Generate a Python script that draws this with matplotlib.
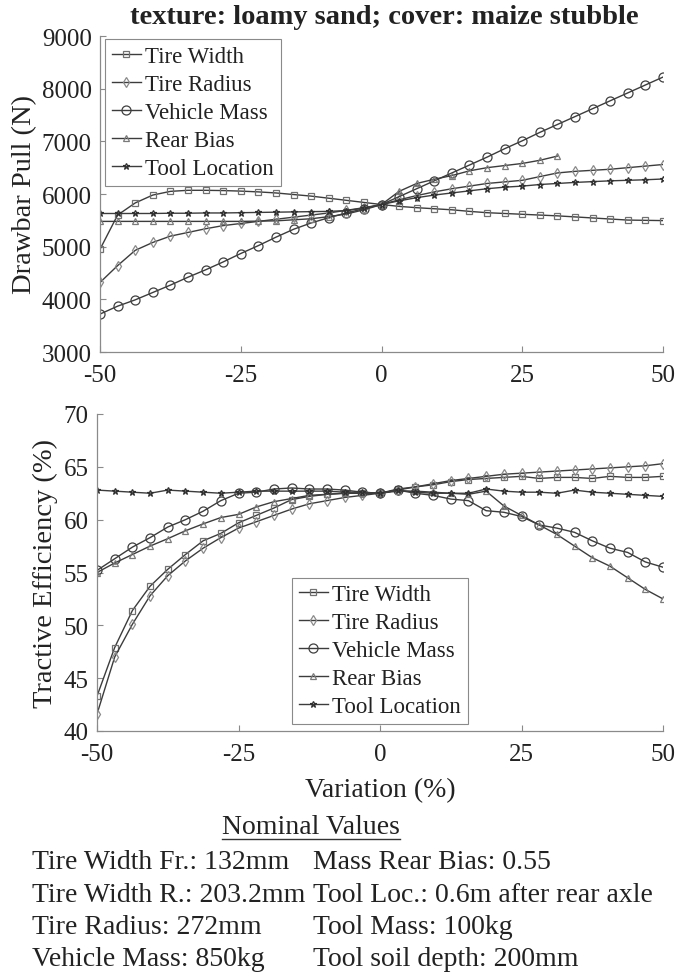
import matplotlib
matplotlib.use("Agg")
import matplotlib.pyplot as plt
from matplotlib.lines import Line2D
import numpy as np

plt.rcParams['font.family'] = ['Liberation Serif', 'DejaVu Serif']

# ---------------- data ----------------
variation = [-50, -46.875, -43.75, -40.625, -37.5, -34.375, -31.25, -28.125, -25,
             -21.875, -18.75, -15.625, -12.5, -9.375, -6.25, -3.125, 0,
             3.125, 6.25, 9.375, 12.5, 15.625, 18.75, 21.875, 25,
             28.125, 31.25, 34.375, 37.5, 40.625, 43.75, 46.875, 50]

series_names = ["Tire Width", "Tire Radius", "Vehicle Mass", "Rear Bias", "Tool Location"]

# Drawbar pull (N)
dp_tire_width = [4950, 5600, 5830, 5980, 6050, 6070, 6070, 6065, 6055, 6040, 6020, 5990, 5960,
                 5920, 5880, 5840, 5800, 5765, 5740, 5720, 5700, 5670, 5645, 5630, 5615,
                 5600, 5585, 5565, 5545, 5525, 5505, 5500, 5495]
dp_tire_radius = [4320, 4640, 4930, 5080, 5200, 5270, 5340, 5400, 5440, 5480, 5520, 5560, 5600,
                  5640, 5690, 5740, 5800, 5890, 5970, 6040, 6100, 6150, 6200, 6230, 6260,
                  6330, 6400, 6430, 6450, 6470, 6500, 6530, 6560]
dp_vehicle_mass = [3720, 3870, 3990, 4130, 4270, 4420, 4560, 4710, 4870, 5020, 5180, 5330, 5450,
                   5550, 5640, 5720, 5800, 5950, 6100, 6250, 6400, 6550, 6700, 6860, 7010,
                   7170, 7320, 7470, 7620, 7770, 7920, 8070, 8220]
dp_rear_bias = [5480, 5480, 5480, 5480, 5480, 5480, 5480, 5480, 5480, 5485, 5490, 5510, 5530,
                5570, 5620, 5700, 5800, 6050, 6200, 6280, 6350, 6440, 6500, 6540, 6580,
                6640, 6720, None, None, None, None, None, None]
dp_tool_location = [5630, 5630, 5630, 5630, 5635, 5635, 5640, 5640, 5645, 5650, 5655, 5660, 5665,
                    5670, 5685, 5730, 5800, 5870, 5930, 5980, 6020, 6060, 6100, 6130, 6150,
                    6180, 6200, 6220, 6235, 6250, 6260, 6270, 6285]

# Tractive efficiency (%)
te_tire_width = [43.3, 47.9, 51.4, 53.7, 55.3, 56.7, 58.0, 58.7, 59.7, 60.4, 61.1, 61.9, 62.2,
                 62.4, 62.5, 62.5, 62.5, 62.9, 63.1, 63.3, 63.6, 63.8, 63.9, 64.0, 64.1,
                 63.9, 64.0, 64.0, 63.9, 64.1, 64.0, 64.0, 64.1]
te_tire_radius = [41.6, 47.0, 50.1, 52.8, 54.7, 56.1, 57.3, 58.3, 59.2, 59.8, 60.4, 61.0, 61.5,
                  61.8, 62.1, 62.3, 62.5, 62.8, 63.1, 63.4, 63.7, 63.9, 64.1, 64.3, 64.4,
                  64.5, 64.6, 64.7, 64.8, 64.9, 65.0, 65.1, 65.3]
te_vehicle_mass = [55.2, 56.3, 57.4, 58.3, 59.3, 60.0, 60.8, 61.8, 62.5, 62.6, 62.9, 63.0, 62.9,
                   62.9, 62.8, 62.6, 62.5, 62.8, 62.5, 62.3, 61.95, 61.8, 60.85, 60.7, 60.3,
                   59.5, 59.2, 58.8, 58.0, 57.3, 56.9, 56.0, 55.5]
te_rear_bias = [55.0, 55.9, 56.7, 57.5, 58.2, 58.95, 59.6, 60.2, 60.5, 61.2, 61.7, 62.0, 62.3,
                62.4, 62.5, 62.5, 62.5, 62.7, 62.7, 62.6, 62.5, 62.4, 62.7, 61.3, 60.4,
                59.5, 58.6, 57.5, 56.4, 55.6, 54.5, 53.4, 52.5]
te_tool_location = [62.8, 62.7, 62.6, 62.5, 62.8, 62.7, 62.6, 62.5, 62.6, 62.7, 62.7, 62.7, 62.7,
                    62.7, 62.6, 62.6, 62.5, 62.8, 62.6, 62.5, 62.5, 62.5, 62.9, 62.7, 62.6,
                    62.6, 62.5, 62.8, 62.6, 62.5, 62.4, 62.3, 62.2]

title_text = "texture: loamy sand; cover: maize stubble"
nominal_left = ["Tire Width Fr.: 132mm", "Tire Width R.: 203.2mm",
                "Tire Radius: 272mm", "Vehicle Mass: 850kg"]
nominal_right = ["Mass Rear Bias: 0.55", "Tool Loc.: 0.6m after rear axle",
                 "Tool Mass: 100kg", "Tool soil depth: 200mm"]

# ---------------- styles ----------------
styles = [
    dict(marker='s', ms=4.5, mec='#707070'),
    dict(marker='d', ms=5.5, mec='#8a8a8a'),
    dict(marker='o', ms=6.5, mec='#404040'),
    dict(marker='^', ms=5.0, mec='#7a7a7a'),
    dict(marker='*', ms=5.0, mec='#303030'),
]
line_color = '#3c3c3c'

W, H = 681, 979
fig = plt.figure(figsize=(W / 100, H / 100), dpi=100)
ax1 = fig.add_axes([100 / W, 1 - 353 / H, 563 / W, 316 / H])
ax2 = fig.add_axes([97 / W, 1 - 732 / H, 566 / W, 317 / H])

x = np.array(variation, dtype=float)


def to_arr(v):
    return np.array([np.nan if a is None else a for a in v], dtype=float)


dp_all = [dp_tire_width, dp_tire_radius, dp_vehicle_mass, dp_rear_bias, dp_tool_location]
te_all = [te_tire_width, te_tire_radius, te_vehicle_mass, te_rear_bias, te_tool_location]

for ax, data in ((ax1, dp_all), (ax2, te_all)):
    for name, vals, st in zip(series_names, data, styles):
        ax.plot(x, to_arr(vals), color=line_color, lw=1.0, marker=st['marker'],
                ms=st['ms'], mfc='none', mec=st['mec'], mew=0.9, label=name)
    ax.set_xlim(-50, 50)
    ax.set_xticks([-50, -25, 0, 25, 50])
    ax.set_xticklabels(['-50', '-25', '0', '25', '50'])
    for s in ('top', 'right'):
        ax.spines[s].set_visible(False)
    for s in ('left', 'bottom'):
        ax.spines[s].set_color('#8a8a8a')
        ax.spines[s].set_linewidth(0.9)
    ax.tick_params(direction='in', length=4, width=0.8, color='#8a8a8a',
                   labelsize=18, labelcolor='#222222')
    ax.tick_params(axis='x', pad=9)
    ax.tick_params(axis='y', pad=6)
    leg_kw = dict(fontsize=16.5, handlelength=1.25, handletextpad=0.2, labelspacing=0.3,
                  borderpad=0.3, borderaxespad=0.0, fancybox=False, framealpha=1,
                  edgecolor='#8a8a8a')
    if ax is ax1:
        leg = ax.legend(loc='upper left', bbox_to_anchor=(0.009, 0.99), **leg_kw)
    else:
        leg = ax.legend(loc='lower left', bbox_to_anchor=(0.345, 0.022), **leg_kw)
    leg.get_frame().set_linewidth(0.8)
    for t in leg.get_texts():
        t.set_color('#222222')

ax1.set_ylim(3000, 9000)
ax1.set_yticks(range(3000, 9001, 1000))
ax2.set_ylim(40, 70)
ax2.set_yticks(range(40, 71, 5))

ax1.set_ylabel("Drawbar Pull (N)", fontsize=20.5, color='#222222', va='center')
ax1.yaxis.set_label_coords((25 - 100) / 563, 0.5)
ax2.set_ylabel("Tractive Efficiency (%)", fontsize=20.5, color='#222222', va='center')
ax2.yaxis.set_label_coords((45 - 97) / 566, 0.5)
ax2.set_xlabel("Variation (%)", fontsize=20, color='#222222', va='center')
ax2.xaxis.set_label_coords((380 - 97) / 566, (732 - 791) / 317)

fig.text(384 / W, 1 - 17 / H, title_text, ha='center', va='center',
         fontsize=20.5, fontweight='bold', color='#222222')

nom = fig.text(222 / W, 1 - 828 / H, "Nominal Values", ha='left', va='center',
               fontsize=20, color='#222222')
row_y = [863, 896, 928, 960]
for ly, lt, rt in zip(row_y, nominal_left, nominal_right):
    fig.text(32 / W, 1 - ly / H, lt, ha='left', va='center', fontsize=20, color='#222222')
    fig.text(313 / W, 1 - ly / H, rt, ha='left', va='center', fontsize=20, color='#222222')

# underline for "Nominal Values"
fig.canvas.draw()
bb = nom.get_window_extent(renderer=fig.canvas.get_renderer())
uy = 1 - 840 / H
fig.add_artist(Line2D([bb.x0 / W, bb.x1 / W], [uy, uy], transform=fig.transFigure,
                      color='#333333', lw=1.0))

fig.savefig("out.png", dpi=100)
